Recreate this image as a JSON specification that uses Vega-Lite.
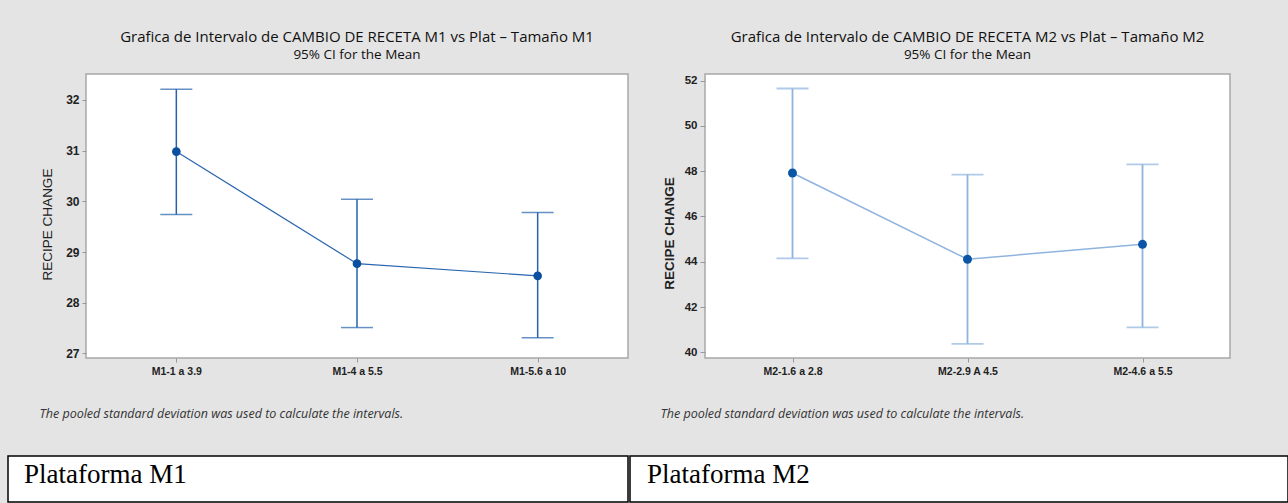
{
  "$schema": "https://vega.github.io/schema/vega-lite/v6.json",
  "background": "#e4e4e4",
  "padding": {"left": 7, "top": 29, "right": 0, "bottom": 0},
  "spacing": 34,
  "align": "none",
  "vconcat": [
    {
      "spacing": 25,
      "align": "none",
      "hconcat": [
        {
          "width": 1,
          "height": 284,
          "view": {"stroke": null, "fill": null},
          "data": {"values": [{"grupo": "spacer"}]},
          "mark": {"type": "point", "opacity": 0, "size": 0},
          "encoding": {}
        },
        {
          "width": 542,
          "height": 284,
          "view": {"fill": "white", "stroke": "#a8a8a8", "strokeWidth": 1.5},
          "title": {
            "text": "Grafica de Intervalo de CAMBIO DE RECETA M1 vs Plat – Tamaño M1",
            "subtitle": "95% CI for the Mean",
            "anchor": "middle",
            "frame": "group",
            "font": "Open Sans",
            "fontSize": 15,
            "fontWeight": "normal",
            "color": "#111111",
            "subtitleFont": "Open Sans",
            "subtitleFontSize": 13.5,
            "subtitleColor": "#111111",
            "subtitlePadding": 3,
            "offset": 12.5
          },
          "data": {
            "values": [
              {"grupo": "M1-1 a 3.9", "mean": 30.98, "lower": 29.74, "upper": 32.21},
              {"grupo": "M1-4 a 5.5", "mean": 28.77, "lower": 27.51, "upper": 30.04},
              {"grupo": "M1-5.6 a 10", "mean": 28.53, "lower": 27.31, "upper": 29.78}
            ]
          },
          "encoding": {
            "x": {
              "field": "grupo",
              "type": "nominal",
              "sort": null,
              "scale": {"type": "point", "padding": 0.5},
              "axis": {
                "title": "The pooled standard deviation was used to calculate the intervals.",
                "labelAngle": 0,
                "labelFont": "Liberation Sans",
                "labelFontSize": 10.5,
                "labelFontWeight": "bold",
                "labelColor": "#222222",
                "labelPadding": 4,
                "tickSize": 4,
                "tickColor": "#999999",
                "domain": false,
                "titleFont": "Open Sans",
                "titleFontStyle": "italic",
                "titleFontWeight": "normal",
                "titleFontSize": 12.5,
                "titleColor": "#333333",
                "titleX": -47,
                "titleY": 55,
                "titleAlign": "left",
                "titleBaseline": "middle"
              }
            }
          },
          "layer": [
            {
              "mark": {"type": "rule", "color": "#2563ad", "strokeWidth": 1.5},
              "encoding": {
                "y": {
                  "field": "lower",
                  "type": "quantitative",
                  "title": "RECIPE CHANGE",
                  "scale": {"domain": [26.91, 32.51], "nice": false, "zero": false},
                  "axis": {
                    "values": [27, 28, 29, 30, 31, 32],
                    "format": "d",
                    "grid": false,
                    "domain": false,
                    "tickSize": 4,
                    "tickColor": "#999999",
                    "labelPadding": 3,
                    "labelFont": "Liberation Sans",
                    "labelFontSize": 12,
                    "labelFontWeight": "bold",
                    "labelColor": "#222222",
                    "titleFont": "Liberation Sans",
                    "titleFontSize": 13.5,
                    "titleFontWeight": "normal",
                    "titleColor": "#222222",
                    "titleX": -39,
                    "titleY": 150,
                    "titleAngle": 270,
                    "titleAlign": "center",
                    "titleBaseline": "middle",
                    "minExtent": 51
                  }
                },
                "y2": {"field": "upper"}
              }
            },
            {
              "mark": {"type": "tick", "color": "#2563ad", "size": 32, "thickness": 1.5},
              "encoding": {"y": {"field": "upper", "type": "quantitative", "title": "RECIPE CHANGE"}}
            },
            {
              "mark": {"type": "tick", "color": "#2563ad", "size": 32, "thickness": 1.5},
              "encoding": {"y": {"field": "lower", "type": "quantitative", "title": "RECIPE CHANGE"}}
            },
            {
              "mark": {"type": "line", "color": "#2a66b0", "strokeWidth": 1.2},
              "encoding": {"y": {"field": "mean", "type": "quantitative", "title": "RECIPE CHANGE"}}
            },
            {
              "mark": {"type": "point", "filled": true, "size": 75, "color": "#0a4fa0", "opacity": 1},
              "encoding": {"y": {"field": "mean", "type": "quantitative", "title": "RECIPE CHANGE"}}
            }
          ]
        },
        {
          "width": 525,
          "height": 284,
          "view": {"fill": "white", "stroke": "#a8a8a8", "strokeWidth": 1.5},
          "title": {
            "text": "Grafica de Intervalo de CAMBIO DE RECETA M2 vs Plat – Tamaño M2",
            "subtitle": "95% CI for the Mean",
            "anchor": "middle",
            "frame": "group",
            "font": "Open Sans",
            "fontSize": 15,
            "fontWeight": "normal",
            "color": "#111111",
            "subtitleFont": "Open Sans",
            "subtitleFontSize": 13.5,
            "subtitleColor": "#111111",
            "subtitlePadding": 3,
            "offset": 12.5
          },
          "data": {
            "values": [
              {"grupo": "M2-1.6  a 2.8", "mean": 47.92, "lower": 44.15, "upper": 51.65},
              {"grupo": "M2-2.9 A 4.5", "mean": 44.11, "lower": 40.37, "upper": 47.85},
              {"grupo": "M2-4.6 a 5.5", "mean": 44.77, "lower": 41.1, "upper": 48.3}
            ]
          },
          "encoding": {
            "x": {
              "field": "grupo",
              "type": "nominal",
              "sort": null,
              "scale": {"type": "point", "padding": 0.5},
              "axis": {
                "title": "The pooled standard deviation was used to calculate the intervals.",
                "labelAngle": 0,
                "labelFont": "Liberation Sans",
                "labelFontSize": 10.5,
                "labelFontWeight": "bold",
                "labelColor": "#222222",
                "labelPadding": 4,
                "tickSize": 4,
                "tickColor": "#999999",
                "domain": false,
                "titleFont": "Open Sans",
                "titleFontStyle": "italic",
                "titleFontWeight": "normal",
                "titleFontSize": 12.5,
                "titleColor": "#333333",
                "titleX": -45,
                "titleY": 55,
                "titleAlign": "left",
                "titleBaseline": "middle"
              }
            }
          },
          "layer": [
            {
              "mark": {"type": "rule", "color": "#8fb4de", "strokeWidth": 1.8},
              "encoding": {
                "y": {
                  "field": "lower",
                  "type": "quantitative",
                  "title": "RECIPE CHANGE",
                  "scale": {"domain": [39.75, 52.29], "nice": false, "zero": false},
                  "axis": {
                    "values": [40, 42, 44, 46, 48, 50, 52],
                    "format": "d",
                    "grid": false,
                    "domain": false,
                    "tickSize": 5,
                    "tickColor": "#999999",
                    "labelPadding": 3,
                    "labelFont": "Liberation Sans",
                    "labelFontSize": 11.5,
                    "labelFontWeight": "bold",
                    "labelColor": "#222222",
                    "titleFont": "Liberation Sans",
                    "titleFontSize": 13.5,
                    "titleFontWeight": "bold",
                    "titleColor": "#222222",
                    "titleX": -36,
                    "titleY": 159,
                    "titleAngle": 270,
                    "titleAlign": "center",
                    "titleBaseline": "middle",
                    "minExtent": 50
                  }
                },
                "y2": {"field": "upper"}
              }
            },
            {
              "mark": {"type": "tick", "color": "#8fb4de", "size": 32, "thickness": 1.8},
              "encoding": {"y": {"field": "upper", "type": "quantitative", "title": "RECIPE CHANGE"}}
            },
            {
              "mark": {"type": "tick", "color": "#8fb4de", "size": 32, "thickness": 1.8},
              "encoding": {"y": {"field": "lower", "type": "quantitative", "title": "RECIPE CHANGE"}}
            },
            {
              "mark": {"type": "line", "color": "#8fb4de", "strokeWidth": 1.5},
              "encoding": {"y": {"field": "mean", "type": "quantitative", "title": "RECIPE CHANGE"}}
            },
            {
              "mark": {"type": "point", "filled": true, "size": 80, "color": "#0a55a5", "opacity": 1},
              "encoding": {"y": {"field": "mean", "type": "quantitative", "title": "RECIPE CHANGE"}}
            }
          ]
        }
      ]
    },
    {
      "spacing": 0,
      "align": "none",
      "hconcat": [
        {
          "width": 620,
          "height": 46,
          "view": {"fill": "white", "stroke": "black", "strokeWidth": 1.5},
          "data": {"values": [{"plataforma": "Plataforma M1"}]},
          "mark": {"type": "text", "align": "left", "baseline": "middle", "dx": 16, "dy": -4, "font": "Liberation Serif", "fontSize": 27, "color": "black"},
          "encoding": {
            "x": {"field": "plataforma", "type": "nominal", "bandPosition": 0, "scale": {"type": "band", "paddingInner": 0, "paddingOuter": 0}, "axis": null},
            "text": {"field": "plataforma"}
          }
        },
        {
          "width": 658,
          "height": 46,
          "view": {"fill": "white", "stroke": "black", "strokeWidth": 1.5},
          "data": {"values": [{"plataforma": "Plataforma M2"}]},
          "mark": {"type": "text", "align": "left", "baseline": "middle", "dx": 17, "dy": -4, "font": "Liberation Serif", "fontSize": 27, "color": "black"},
          "encoding": {
            "x": {"field": "plataforma", "type": "nominal", "bandPosition": 0, "scale": {"type": "band", "paddingInner": 0, "paddingOuter": 0}, "axis": null},
            "text": {"field": "plataforma"}
          }
        }
      ]
    }
  ]
}
